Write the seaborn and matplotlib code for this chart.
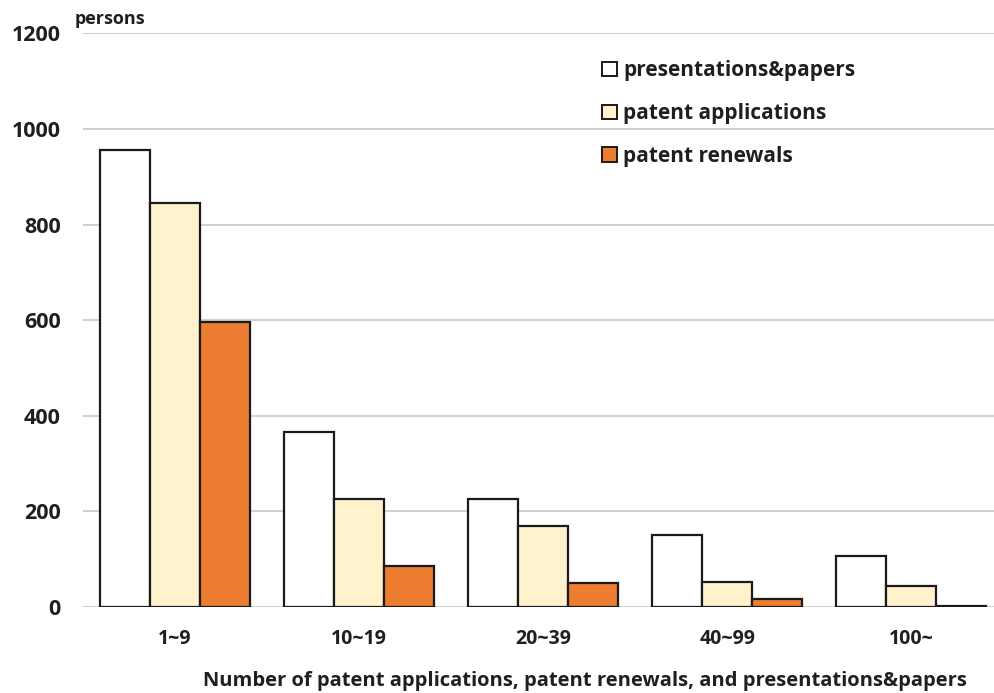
import matplotlib
matplotlib.use("Agg")
import matplotlib.pyplot as plt
from matplotlib.patches import Patch
import seaborn as sns
import pandas as pd

# Persons by number of output items
categories = ["1~9", "10~19", "20~39", "40~99", "100~"]
series = ["presentations&papers", "patent applications", "patent renewals"]
presentations_papers = [956, 367, 226, 151, 107]
patent_applications = [845, 225, 169, 52, 45]
patent_renewals = [597, 86, 51, 17, 3]
colors = ["#ffffff", "#fff2cc", "#ed7d31"]
y_ticks = [0, 200, 400, 600, 800, 1000, 1200]

rows = []
for name, vals in zip(series, [presentations_papers, patent_applications, patent_renewals]):
    for cat, v in zip(categories, vals):
        rows.append({"range": cat, "series": name, "persons": v})
df = pd.DataFrame(rows)

sns.set_theme(style="white")
plt.rcParams["font.family"] = ["Open Sans", "DejaVu Sans"]

fig = plt.figure(figsize=(9.94, 6.93), dpi=100)
ax = fig.add_axes([0.0835, 0.124, 0.9165, 0.828])

sns.barplot(data=df, x="range", y="persons", hue="series", order=categories,
            hue_order=series, palette=colors, edgecolor="#1a1a1a", linewidth=1.6,
            width=0.815, gap=0, saturation=1, legend=False, ax=ax, zorder=3)

ax.set_ylim(0, 1200)
ax.set_xlim(-0.5, 4.45)
ax.set_yticks(y_ticks)
ax.yaxis.grid(True, color="#d0d0d0", linewidth=1.4, zorder=0)
ax.xaxis.grid(False)
for s in ax.spines.values():
    s.set_visible(False)
ax.tick_params(axis="both", length=0, labelcolor="#1f1f1f")
ax.tick_params(axis="y", pad=16, labelsize=15.5)
ax.tick_params(axis="x", pad=16, labelsize=14)
for lab in ax.get_xticklabels() + ax.get_yticklabels():
    lab.set_fontweight("bold")
ax.set_xlabel("")
ax.set_ylabel("")

fig.text(0.0755, 0.972, "persons", fontsize=13, fontweight="bold", color="#1f1f1f",
         ha="left", va="center")
fig.text(0.588, 0.018, "Number of patent applications, patent renewals, and presentations&papers",
         fontsize=14.5, fontweight="bold", color="#1f1f1f", ha="center", va="center")

handles = [Patch(facecolor=c, edgecolor="#1a1a1a", linewidth=1.4) for c in colors]
fig.legend(handles, series, loc="upper left", bbox_to_anchor=(0.587, 0.94),
           frameon=False, handlelength=0.7, handleheight=0.7, handletextpad=0.3,
           labelspacing=1.05, prop={"size": 15, "weight": "bold"},
           labelcolor="#1f1f1f")

fig.savefig("out.png", dpi=100, facecolor="white")
